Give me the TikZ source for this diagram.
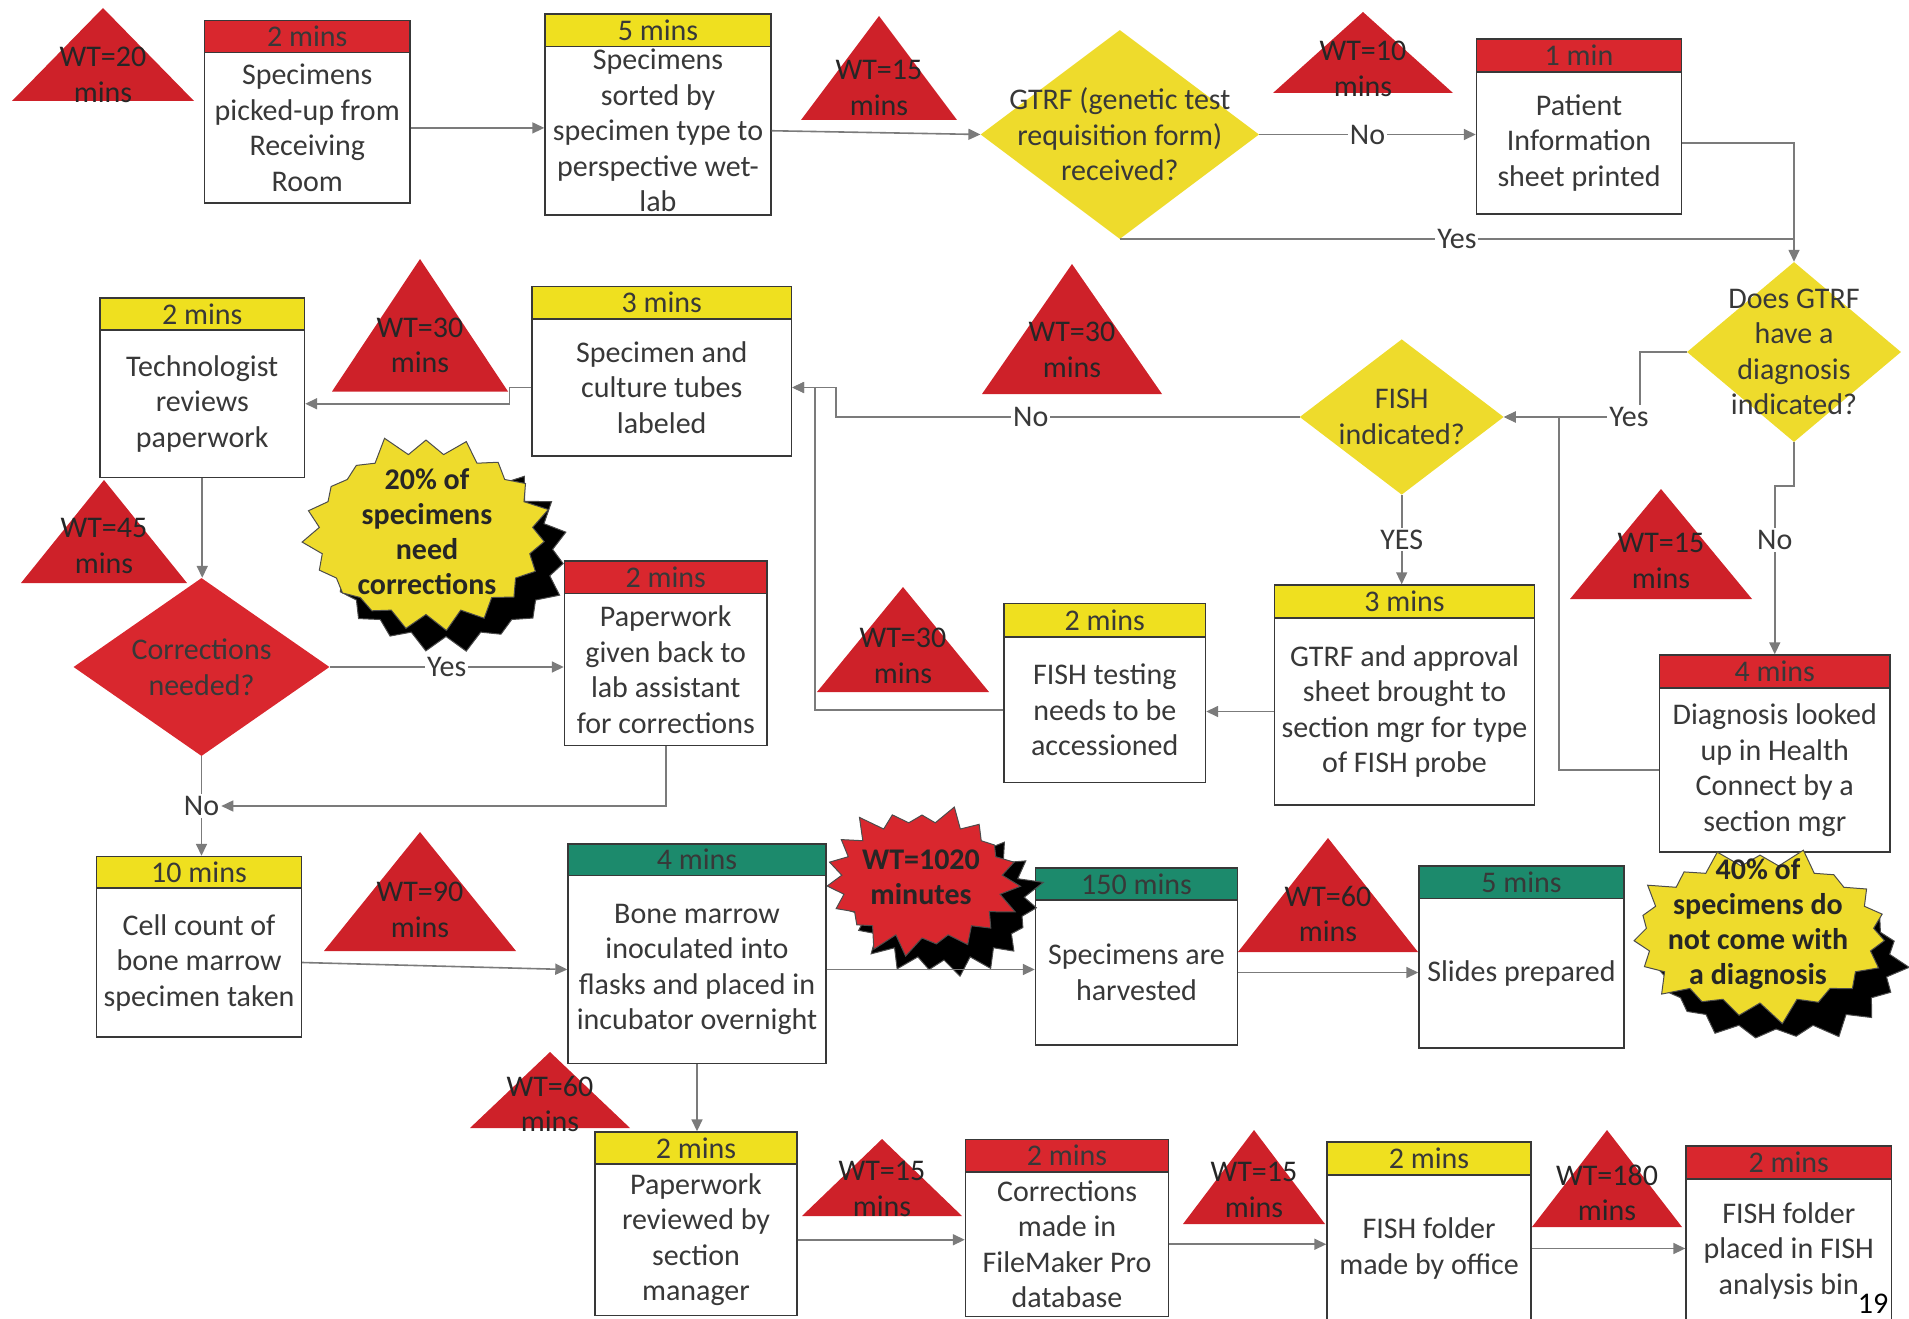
\documentclass[tikz,border=0pt]{standalone}
\usepackage{fontspec}
\setmainfont{Carlito}
\usetikzlibrary{shapes.geometric,shapes.symbols,arrows.meta,calc}

\definecolor{boxred}{HTML}{D9272E}
\definecolor{wtred}{HTML}{CE2129}
\definecolor{hdryellow}{HTML}{EFE01F}
\definecolor{dyellow}{HTML}{EEDB2C}
\definecolor{hdrgreen}{HTML}{1C8A6C}
\definecolor{ink}{HTML}{383838}
\definecolor{wire}{HTML}{7B7B7B}

\tikzset{
  every node/.style={font=\fontsize{30}{35.5}\selectfont, text=ink},
  hdr/.style={draw=ink, line width=1.4pt, inner sep=0pt, align=center},
  body/.style={draw=ink, fill=white, line width=1.4pt, inner sep=0pt},
  cond/.style={diamond, inner sep=0pt},
  wtlabel/.style={align=center, text=black!85},
  conn/.style={draw=wire, line width=1.6pt, -{Triangle[length=12pt,width=11pt]}},
  plain/.style={draw=wire, line width=1.6pt},
  lbl/.style={fill=white, inner sep=2pt},
  burst/.style={starburst, starburst points=19, starburst point height=22pt, inner sep=0pt, draw=black!70, line width=1pt},
  bursttext/.style={align=center, font=\bfseries\fontsize{30}{35}\selectfont, text=black!85},
}

% process box: name, left, top, right, header bottom, bottom, header colour, header, body text
\newcommand{\procbox}[9]{%
  \node[hdr, fill=#7, minimum width={#4-#2}, minimum height={#5-#3}] (#1-h) at ({(#2+#4)/2},{(#3+#5)/2}) {#8};
  \node[body, minimum width={#4-#2}, minimum height={#6-#5}] (#1) at ({(#2+#4)/2},{(#5+#6)/2}) {};
  \node[align=center] (#1-t) at (#1.center) {#9};
}
% decision diamond: name, x, y, width, height, colour, text
\newcommand{\decision}[7]{%
  \node[cond, fill=#6, minimum width=#4pt, minimum height=#5pt] (#1) at (#2,#3) {};
  \node[align=center] (#1-t) at (#1.center) {#7};
}
% waiting-time triangle: name, apex x, apex y, half base, base y, text rise, minutes
\newcommand{\waittri}[7]{%
  \fill[wtred] (#2,#3) -- ({#2+#4},#5) -- ({#2-#4},#5) -- cycle;
  \node[wtlabel] (#1) at (#2,{#5-#6}) {WT=#7\\mins};
}

\begin{document}
\begin{tikzpicture}[x=1pt, y=-1pt]
\useasboundingbox (0,0) rectangle (1909,1319);

% ---------- waiting times ----------
\waittri{wt1}{103}{8}{91}{101}{26}{20}
\waittri{wt2}{879}{16}{78}{120}{32}{15}
\waittri{wt3}{1363}{12}{90}{93}{24}{10}
\waittri{wt4}{420}{259}{88}{391.5}{46}{30}
\waittri{wt5}{1072}{264}{90}{394}{44}{30}
\waittri{wt6}{104}{480}{83}{583}{37}{45}
\waittri{wt7}{1661}{489}{91}{599}{38}{15}
\waittri{wt8}{903}{587}{86}{692}{36}{30}
\waittri{wt9}{420}{832}{96}{951}{41}{90}
\waittri{wt10}{1328}{838}{90}{952}{38}{60}
\waittri{wt11}{550}{1052}{80}{1128}{24}{60}
\waittri{wt12}{882}{1139}{80}{1216}{27}{15}
\waittri{wt13}{1254}{1130}{71}{1224}{34}{15}
\waittri{wt14}{1607}{1130}{75}{1227}{34}{180}

% ---------- process boxes ----------
\procbox{pick}{204.5}{20.7}{410}{52.8}{203}{boxred}{2 mins}{Specimens\\picked-up from\\Receiving\\Room}
\procbox{sort}{545}{14}{771}{46.5}{215}{hdryellow}{5 mins}{Specimens\\sorted by\\specimen type to\\perspective wet-\\lab}
\procbox{patient}{1476.5}{39}{1681.5}{72}{214}{boxred}{1 min}{Patient\\Information\\sheet printed}
\procbox{tech}{100}{298}{304.5}{330}{477.5}{hdryellow}{2 mins}{Technologist\\reviews\\paperwork}
\procbox{culture}{532}{286.5}{791.5}{319}{456}{hdryellow}{3 mins}{Specimen and\\culture tubes\\labeled}
\procbox{paperback}{564.5}{561}{767}{593.5}{745.5}{boxred}{2 mins}{Paperwork\\given back to\\lab assistant\\for corrections}
\procbox{fishtest}{1004}{603.5}{1205.5}{637}{782.5}{hdryellow}{2 mins}{FISH testing\\needs to be\\accessioned}
\procbox{approval}{1274.5}{585}{1534.5}{618}{805}{hdryellow}{3 mins}{GTRF and approval\\sheet brought to\\section mgr for type\\of FISH probe}
\procbox{diagbox}{1659.5}{655}{1890}{688}{852}{boxred}{4 mins}{Diagnosis looked\\up in Health\\Connect by a\\section mgr}
\procbox{cellcount}{96.5}{856.5}{301.5}{888}{1037}{hdryellow}{10 mins}{Cell count of\\bone marrow\\specimen taken}
\procbox{bone}{568}{844}{826}{875.5}{1063.5}{hdrgreen}{4 mins}{Bone marrow\\inoculated into\\flasks and placed in\\incubator overnight}
\procbox{harvest}{1035.5}{868}{1237.5}{900}{1045}{hdrgreen}{150 mins}{Specimens are\\harvested}
\procbox{slides}{1419}{866}{1624}{898.5}{1048}{hdrgreen}{5 mins}{Slides prepared}
\procbox{paperrev}{595}{1132}{797}{1164}{1315.5}{hdryellow}{2 mins}{Paperwork\\reviewed by\\section\\manager}
\procbox{corrmade}{965.5}{1139.5}{1168.5}{1172}{1316.5}{boxred}{2 mins}{Corrections\\made in\\FileMaker Pro\\database}
\procbox{foldermade}{1327}{1142}{1531}{1175}{1322}{hdryellow}{2 mins}{FISH folder\\made by office}
\procbox{folderplaced}{1686}{1146}{1891.5}{1179}{1322}{boxred}{2 mins}{FISH folder\\placed in FISH\\analysis bin}

% ---------- decisions ----------
\decision{gtrf}{1119.8}{134.5}{278.4}{209}{dyellow}{GTRF (genetic test\\requisition form)\\received?}
\decision{does}{1794}{352}{214}{180}{dyellow}{Does GTRF\\have a\\diagnosis\\indicated?}
\decision{fish}{1401.7}{417}{204}{155.4}{dyellow}{FISH\\indicated?}
\decision{corr}{201.5}{667}{256}{178}{boxred}{Corrections\\needed?}

% ---------- call-outs ----------
\node[burst, fill=black, minimum width=258pt, minimum height=205pt, random starburst=11] (s20-shadow) at (446,556) {};
\node[burst, fill=dyellow, minimum width=258pt, minimum height=205pt, random starburst=5] (s20) at (426,534) {};
\node[bursttext] (s20-t) at (427,532) {20\% of\\specimens\\need\\corrections};

\node[burst, fill=black, minimum width=205pt, minimum height=160pt, random starburst=23] (s1020-shadow) at (944,902) {};
\node[burst, fill=boxred, minimum width=205pt, minimum height=160pt, random starburst=3] (s1020) at (922,880) {};
\node[bursttext] (s1020-t) at (921,877.5) {WT=1020\\minutes};

\node[burst, fill=black, minimum width=272pt, minimum height=182pt, random starburst=17] (s40-shadow) at (1776,960) {};
\node[burst, fill=dyellow, minimum width=272pt, minimum height=182pt, random starburst=9] (s40) at (1760,934) {};
\node[bursttext] (s40-t) at (1758,924) {40\% of\\specimens do\\not come with\\a diagnosis};

% ---------- connectors ----------
\draw[conn] (pick.east) -- (sort.west |- pick.east);
\draw[conn] (sort.east) -- (gtrf.west);
\draw[conn] (gtrf.east) -- node[lbl] (l-no1) {No} (patient.west |- gtrf.east);
\draw[conn] (patient.east) -| (does.north);
\draw[plain] (gtrf.south) -- node[lbl] (l-yes1) {Yes} (does.north |- gtrf.south);

\draw[conn] (does.west) -- ++(-47,0) |- node[lbl, pos=0.54] (l-yes2) {Yes} (fish.east);
\draw[conn] (does.south) -- ++(0,44) -| node[lbl, pos=0.66] (l-no2) {No} (diagbox-h.north);
\coordinate (j1) at ($(fish.east)+(55,0)$);
\draw[conn] (diagbox.west) -| (j1) -- (fish.east);
\draw[conn] (fish.south) -- node[lbl] (l-yes3) {YES} (fish.south |- approval-h.north);
\draw[conn] (approval.west) -- (fishtest.east |- approval.west);
\coordinate (j2) at ($(culture.east)+(23,0)$);
\draw[conn] (fishtest.west) -| (j2) -- (culture.east);
\coordinate (j3) at ($(culture.east)+(44,0)$);
\draw[conn] (fish.west) -- node[lbl, pos=0.58] (l-no3) {No} (j3 |- fish.west) -- (j3) -- (culture.east);
\draw[conn] (culture.west) -- ++(-22,0) |- (tech.east);
\draw[conn] (tech.south) -- (tech.south |- corr.north);
\draw[conn] (corr.east) -- node[lbl] (l-yes4) {Yes} (paperback.west |- corr.east);

\node[lbl] (nolbl) at (201.5,806) {No};
\draw[plain] (corr.south) -- (nolbl.north);
\draw[conn] (nolbl.south) -- (nolbl.south |- cellcount-h.north);
\draw[conn] (paperback.south) |- (nolbl.east);

\draw[conn] (cellcount.east) -- (bone.west);
\draw[conn] (bone.east) -- (harvest.west |- bone.east);
\draw[conn] (harvest.east) -- (slides.west |- harvest.east);
\draw[conn] (bone.south) -- (bone.south |- paperrev-h.north);
\draw[conn] (paperrev.east) -- (corrmade.west |- paperrev.east);
\draw[conn] (corrmade.east) -- (foldermade.west |- corrmade.east);
\draw[conn] (foldermade.east) -- (folderplaced.west |- foldermade.east);

% page number
\node[anchor=base, text=black] (pageno) at (1873,1313) {19};
\end{tikzpicture}
\end{document}
